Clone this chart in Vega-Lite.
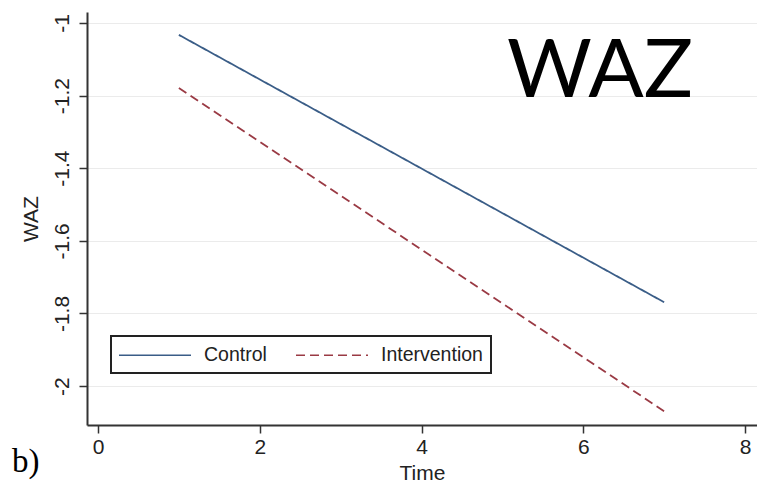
{
  "$schema": "https://vega.github.io/schema/vega-lite/v6.json",
  "autosize": {"type": "none"},
  "width": 670,
  "height": 413,
  "padding": {"left": 87, "top": 12, "right": 0, "bottom": 62},
  "background": "white",
  "config": {
    "view": {"stroke": null},
    "font": "Liberation Sans",
    "axis": {"labelFont": "Liberation Sans", "titleFont": "Liberation Sans", "labelColor": "#222", "titleColor": "#222", "titleFontWeight": "normal", "domainColor": "#333", "tickColor": "#333", "domainWidth": 2, "tickWidth": 1.5, "tickSize": 8}
  },
  "datasets": {
    "lines": [
      {"Time": 1, "WAZ": -1.033, "Group": "Control"},
      {"Time": 7, "WAZ": -1.769, "Group": "Control"},
      {"Time": 1, "WAZ": -1.179, "Group": "Intervention"},
      {"Time": 7, "WAZ": -2.069, "Group": "Intervention"}
    ],
    "notes": [{"note": "WAZ"}]
  },
  "layer": [
    {
      "data": {"name": "lines"},
      "mark": {"type": "line", "strokeWidth": 1.8},
      "encoding": {
        "x": {"field": "Time", "type": "quantitative", "scale": {"domain": [-0.136, 8.148], "nice": false, "zero": false},
              "axis": {"values": [0, 2, 4, 6, 8], "format": "~g", "grid": false, "labelFontSize": 21, "titleFontSize": 21, "labelPadding": 3, "titlePadding": 5, "labelFlush": false}},
        "y": {"field": "WAZ", "type": "quantitative", "scale": {"domain": [-2.107, -0.97], "nice": false, "zero": false},
              "axis": {"values": [-1, -1.2, -1.4, -1.6, -1.8, -2], "format": "~g", "labelExpr": "replace(datum.label, '\u2212', '-')", "grid": true, "gridColor": "#ebebeb", "gridWidth": 1.2, "labelAngle": -90, "labelFontSize": 21, "titleFontSize": 21, "labelPadding": 7, "titlePadding": 10, "labelFlush": false}},
        "color": {"field": "Group", "type": "nominal", "scale": {"domain": ["Control", "Intervention"], "range": ["#3a5d87", "#9a3a44"]},
                  "legend": {"orient": "none", "legendX": 24, "legendY": 324, "direction": "horizontal", "title": null, "symbolType": "M-1.1,0H6.1", "symbolSize": 400, "symbolStrokeWidth": 1.6, "labelFontSize": 19.5, "labelColor": "#222", "labelOffset": 63, "columnPadding": 25, "padding": 8, "strokeColor": "#222", "fillColor": "white", "cornerRadius": 0,
                             "encode": {"legend": {"update": {"strokeWidth": {"value": 2}}}}}},
        "strokeDash": {"field": "Group", "type": "nominal", "scale": {"domain": ["Control", "Intervention"], "range": [[1, 0], [9, 5]]}, "legend": null}
      }
    },
    {
      "data": {"name": "notes"},
      "mark": {"type": "text", "font": "Lato", "fontSize": 82, "align": "center", "baseline": "alphabetic", "color": "black"},
      "encoding": {"x": {"datum": 6.207}, "y": {"datum": -1.204}, "text": {"field": "note"}}
    },
    {
      "data": {"name": "notes"},
      "mark": {"type": "text", "font": "Liberation Serif", "fontSize": 33, "align": "left", "baseline": "alphabetic", "color": "black"},
      "encoding": {"x": {"datum": -1.063}, "y": {"datum": -2.237}, "text": {"value": "b)"}}
    }
  ]
}
